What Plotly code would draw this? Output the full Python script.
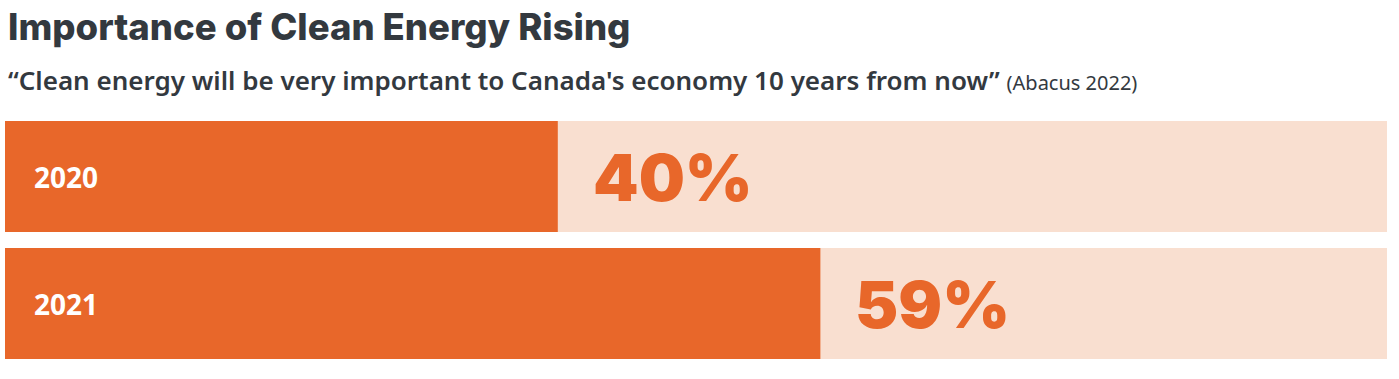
import plotly.graph_objects as go

years = ["2020", "2021"]
values = [40, 59]
full_scale = 100

title = "Importance of Clean Energy Rising"
subtitle = "“Clean energy will be very important to Canada's economy 10 years from now”"
source = "(Abacus 2022)"

ORANGE = "#E8672A"
LIGHT = "#F9DFD0"
DARK = "#33393F"

bar_w = 111 / 127

fig = go.Figure()
fig.add_trace(go.Bar(
    y=years, x=[full_scale] * len(years), orientation="h",
    marker=dict(color=LIGHT, line=dict(width=0)), width=bar_w,
    hoverinfo="skip", showlegend=False,
))
fig.add_trace(go.Bar(
    y=years, x=values, orientation="h",
    marker=dict(color=ORANGE, line=dict(width=0)), width=bar_w,
    showlegend=False,
))

annotations = []
for i, (yr, v) in enumerate(zip(years, values)):
    annotations.append(dict(
        x=0, y=i, xref="x", yref="y", text=f"<b>{yr}</b>",
        xanchor="left", yanchor="middle", xshift=27, showarrow=False,
        font=dict(family="Open Sans", size=28, color="white"),
    ))
    annotations.append(dict(
        x=v, y=i, xref="x", yref="y", text=f"{v}%",
        xanchor="left", yanchor="middle", xshift=33, yshift=-1, showarrow=False,
        font=dict(family="Inter", size=65, color=ORANGE, weight=900),
    ))

annotations.append(dict(
    x=0, y=1, xref="paper", yref="paper", text=title,
    xanchor="left", yanchor="middle", xshift=1, yshift=94, showarrow=False,
    font=dict(family="Inter", size=36.5, color=DARK, weight=800),
))
annotations.append(dict(
    x=0, y=1, xref="paper", yref="paper",
    text=f"<span style='font-weight:600'>{subtitle}</span> <span style='font-size:20px'>{source}</span>",
    xanchor="left", yanchor="middle", xshift=1, yshift=41, showarrow=False,
    font=dict(family="Noto Sans", size=26, color=DARK),
))

fig.update_layout(
    width=1399, height=379,
    margin=dict(l=5, r=12, t=121, b=20),
    paper_bgcolor="white", plot_bgcolor="white",
    barmode="overlay",
    xaxis=dict(range=[0, full_scale], visible=False, fixedrange=True),
    yaxis=dict(type="category", range=[1 + bar_w / 2, -bar_w / 2], visible=False, fixedrange=True),
    annotations=annotations,
)

fig.write_html("out.html", config={"displayModeBar": False},
               post_script="document.body.style.margin='0';")
